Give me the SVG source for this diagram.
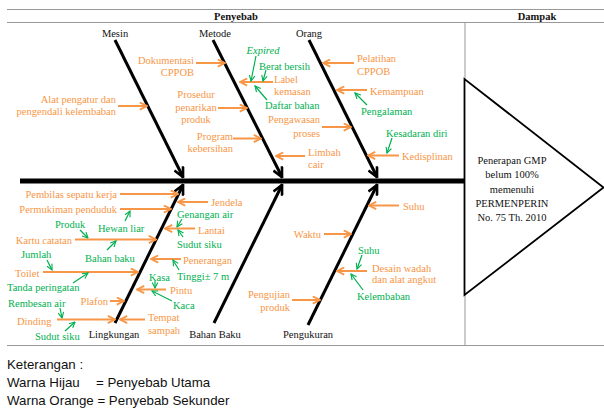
<svg xmlns="http://www.w3.org/2000/svg" width="604" height="410" viewBox="0 0 604 410">
<style>
text{font-family:"Liberation Serif","Times New Roman",serif;font-size:10.5px;dominant-baseline:central}
.o{fill:#F79646}
.g{fill:#00B050}
.k{fill:#111}
.h{font-weight:bold;fill:#111}
.c{text-anchor:middle}
.r{text-anchor:end}
.lo{stroke:#F79646;stroke-width:2;fill:none;marker-end:url(#ao)}
.lg{stroke:#00B050;stroke-width:1.2;fill:none;marker-end:url(#ag)}
.lb{stroke:#000;stroke-width:3;fill:none;marker-end:url(#ab)}
.tb{stroke:#999;stroke-width:1;fill:none}
.leg{font-family:"Liberation Sans",Arial,sans-serif;font-size:13.3px;fill:#111}
</style>
<defs>
<marker id="ao" viewBox="0 0 10 10" refX="9" refY="5" markerWidth="9" markerHeight="9" markerUnits="userSpaceOnUse" orient="auto"><path d="M1,1 L9,5 L1,9" fill="none" stroke="#F79646" stroke-width="2"/></marker>
<marker id="ag" viewBox="0 0 10 10" refX="9" refY="5" markerWidth="7" markerHeight="7" markerUnits="userSpaceOnUse" orient="auto"><path d="M1,1 L9,5 L1,9" fill="none" stroke="#00B050" stroke-width="1.6"/></marker>
<marker id="ab" viewBox="0 0 10 10" refX="9" refY="5" markerWidth="12" markerHeight="12" markerUnits="userSpaceOnUse" orient="auto"><path d="M1,1 L9,5 L1,9" fill="none" stroke="#000" stroke-width="2.2"/></marker>
</defs>
<rect width="604" height="410" fill="#fff"/>
<g id="table">
<line class="tb" x1="7" y1="9.5" x2="604" y2="9.5"/>
<line class="tb" x1="7" y1="22.5" x2="604" y2="22.5"/>
<line class="tb" x1="7" y1="345.5" x2="604" y2="345.5"/>
<line class="tb" x1="465" y1="22" x2="465" y2="80"/>
<line class="tb" x1="465" y1="295" x2="465" y2="345"/>
<text class="h c" x="236" y="16">Penyebab</text>
<text class="h c" x="537" y="16">Dampak</text>
</g>
<g id="spine">
<line x1="20" y1="181" x2="464" y2="181" stroke="#000" stroke-width="5"/>
</g>
<g id="effect">
<path d="M464.5,79 L464.5,295 L603.5,187.5 Z" fill="#fff" stroke="#000" stroke-width="1.8" stroke-linejoin="miter"/>
<text class="k c" x="512" y="160">Penerapan GMP</text>
<text class="k c" x="512" y="174">belum 100%</text>
<text class="k c" x="512" y="189">memenuhi</text>
<text class="k c" x="512" y="203">PERMENPERIN</text>
<text class="k c" x="512" y="217">No. 75 Th. 2010</text>
</g>
<g id="connectors">
<line class="lb" x1="115" y1="40" x2="183" y2="177"/>
<line class="lb" x1="213" y1="40" x2="282" y2="177"/>
<line class="lb" x1="309" y1="40" x2="377" y2="177"/>
<line class="lb" x1="115" y1="323" x2="183" y2="185"/>
<line class="lb" x1="214" y1="323" x2="282" y2="185"/>
<line class="lb" x1="308" y1="325" x2="377" y2="185"/>
</g>
<g id="mesin">
<text class="k c" x="115" y="33">Mesin</text>
<text class="o r" x="116" y="99">Alat pengatur dan</text>
<text class="o r" x="116" y="111">pengendali kelembaban</text>
<line class="lo" x1="118" y1="106" x2="147" y2="106"/>
</g>
<g id="metode">
<text class="k c" x="215" y="33">Metode</text>
<text class="o r" x="194" y="60">Dokumentasi</text>
<text class="o r" x="194" y="72">CPPOB</text>
<line class="lo" x1="196" y1="63" x2="225" y2="63"/>
<text class="o c" x="196" y="94">Prosedur</text>
<text class="o c" x="196" y="107">penarikan</text>
<text class="o c" x="196" y="119">produk</text>
<line class="lo" x1="218" y1="108" x2="247" y2="108"/>
<text class="o r" x="233" y="136">Program</text>
<text class="o r" x="233" y="148">kebersihan</text>
<line class="lo" x1="233" y1="138.5" x2="261" y2="138.5"/>
<text class="g c" x="263" y="50" font-style="italic">Expired</text>
<text class="g" x="259" y="66">Berat bersih</text>
<text class="o" x="274" y="79">Label</text>
<text class="o" x="274" y="91">kemasan</text>
<line class="lo" x1="273" y1="82" x2="240" y2="82"/>
<line class="lg" x1="256" y1="56" x2="251" y2="81"/>
<line class="lg" x1="266" y1="70" x2="263" y2="81"/>
<text class="g" x="265" y="105">Daftar bahan</text>
<line class="lg" x1="267" y1="100" x2="255" y2="86"/>
<text class="o r" x="320" y="119">Pengawasan</text>
<text class="o r" x="320" y="133">proses</text>
<line class="lo" x1="322" y1="127" x2="351" y2="127"/>
<text class="o" x="308" y="152">Limbah</text>
<text class="o" x="308" y="164">cair</text>
<line class="lo" x1="305" y1="156" x2="276" y2="156"/>
</g>
<g id="orang">
<text class="k c" x="309" y="33">Orang</text>
<text class="o" x="357" y="58">Pelatihan</text>
<text class="o" x="357" y="71">CPPOB</text>
<line class="lo" x1="354" y1="63" x2="323" y2="63"/>
<text class="o" x="370" y="91">Kemampuan</text>
<line class="lo" x1="367" y1="90" x2="337" y2="90"/>
<text class="g" x="361" y="111">Pengalaman</text>
<line class="lg" x1="367" y1="105" x2="355" y2="93"/>
<text class="g" x="386" y="133">Kesadaran diri</text>
<line class="lg" x1="392" y1="138" x2="387" y2="153"/>
<text class="o" x="402" y="156">Kedisplinan</text>
<line class="lo" x1="399" y1="155.5" x2="368" y2="155.5"/>
</g>
<g id="lingkungan">
<text class="k c" x="114" y="334">Lingkungan</text>
<text class="o r" x="117" y="194">Pembilas sepatu kerja</text>
<line class="lo" x1="120" y1="194" x2="178" y2="194"/>
<text class="o" x="211" y="202">Jendela</text>
<line class="lo" x1="208" y1="202" x2="178" y2="202"/>
<text class="o r" x="117" y="209">Permukiman penduduk</text>
<line class="lo" x1="120" y1="209" x2="171" y2="209"/>
<text class="g" x="98" y="228">Hewan liar</text>
<line class="lg" x1="125" y1="221" x2="130" y2="211"/>
<text class="g" x="55" y="224">Produk</text>
<line class="lg" x1="80" y1="230" x2="88" y2="238"/>
<text class="o r" x="72" y="240">Kartu catatan</text>
<line class="lo" x1="75" y1="239.5" x2="156" y2="239.5"/>
<text class="g" x="85" y="258">Bahan baku</text>
<line class="lg" x1="107" y1="250" x2="116" y2="241"/>
<text class="g" x="177" y="214">Genangan air</text>
<line class="lg" x1="182" y1="219" x2="177" y2="227"/>
<text class="o" x="198" y="230">Lantai</text>
<line class="lo" x1="195" y1="228.5" x2="165" y2="228.5"/>
<text class="g" x="177" y="244">Sudut siku</text>
<line class="lg" x1="183" y1="237" x2="178" y2="230"/>
<text class="o" x="183" y="260">Penerangan</text>
<line class="lo" x1="181" y1="259" x2="151" y2="259"/>
<text class="g" x="177" y="276">Tinggi± 7 m</text>
<line class="lg" x1="179" y1="270" x2="173" y2="260"/>
<text class="g" x="21" y="254">Jumlah</text>
<line class="lg" x1="47" y1="260" x2="52" y2="270"/>
<text class="o" x="15" y="273">Toilet</text>
<line class="lo" x1="43" y1="272" x2="138" y2="272"/>
<text class="g" x="7" y="287">Tanda peringatan</text>
<line class="lg" x1="73" y1="283" x2="88" y2="273"/>
<text class="g" x="149" y="277">Kasa</text>
<line class="lg" x1="155" y1="281" x2="155" y2="288"/>
<text class="o" x="170" y="290">Pintu</text>
<line class="lo" x1="166" y1="289.5" x2="137" y2="289.5"/>
<text class="g" x="173" y="305">Kaca</text>
<line class="lg" x1="172" y1="301" x2="152" y2="291"/>
<text class="o r" x="108" y="301">Plafon</text>
<line class="lo" x1="110" y1="301" x2="124" y2="301"/>
<text class="g" x="8" y="303">Rembesan air</text>
<line class="lg" x1="60" y1="308" x2="62" y2="318"/>
<text class="o" x="17" y="321">Dinding</text>
<line class="lo" x1="57" y1="319.5" x2="115" y2="319.5"/>
<text class="g" x="35" y="336">Sudut siku</text>
<line class="lg" x1="65" y1="331" x2="75" y2="322"/>
<text class="o" x="148" y="317">Tempat</text>
<text class="o" x="148" y="330">sampah</text>
<line class="lo" x1="145" y1="319.5" x2="120" y2="319.5"/>
</g>
<g id="bahanbaku">
<text class="k c" x="215" y="334">Bahan Baku</text>
</g>
<g id="pengukuran">
<text class="k c" x="308" y="334">Pengukuran</text>
<text class="o" x="403" y="206">Suhu</text>
<line class="lo" x1="399" y1="205.5" x2="369" y2="205.5"/>
<text class="o r" x="321" y="234">Waktu</text>
<line class="lo" x1="324" y1="234" x2="351" y2="234"/>
<text class="g" x="358" y="250">Suhu</text>
<line class="lg" x1="362" y1="255" x2="357" y2="269"/>
<text class="o" x="372" y="268">Desain wadah</text>
<text class="o" x="372" y="279">dan alat angkut</text>
<line class="lo" x1="367" y1="271" x2="337" y2="271"/>
<text class="g" x="357" y="296">Kelembaban</text>
<line class="lg" x1="363" y1="290" x2="351" y2="274"/>
<text class="o r" x="290" y="294">Pengujian</text>
<text class="o r" x="290" y="307">produk</text>
<line class="lo" x1="292" y1="300" x2="320" y2="300"/>
</g>
<g id="legend">
<text class="leg" x="7" y="364">Keterangan :</text>
<text class="leg" x="7" y="382">Warna Hijau</text>
<text class="leg" x="96" y="382">= Penyebab Utama</text>
<text class="leg" x="7" y="400">Warna Orange = Penyebab Sekunder</text>
</g>
</svg>
